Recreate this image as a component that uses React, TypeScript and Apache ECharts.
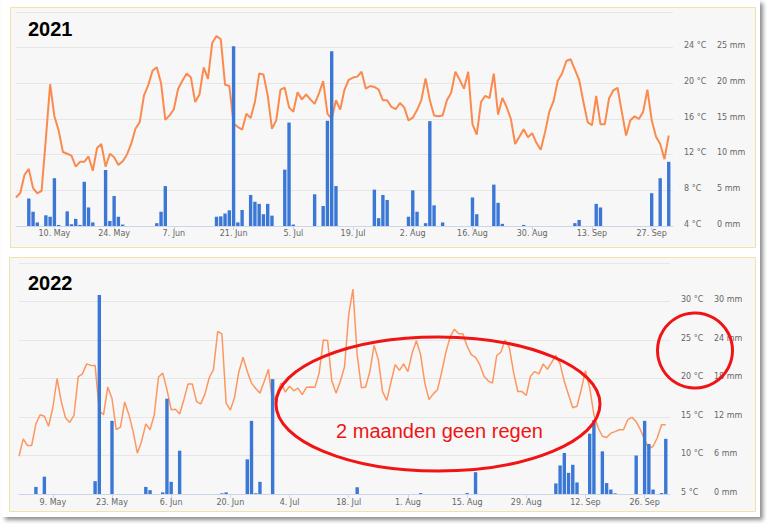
import React, { useEffect, useRef } from "react";
import * as echarts from "echarts";

// Day index 0 = 1 May
const temp2021 = [
  7.2, 7.7, 9.75, 10.4, 8.25, 7.65, 7.95, 13.8, 19.9, 16.3,
  14.7, 12.3, 12.1, 11.9, 10.65, 11.2, 11.2, 11.8, 10.2, 12.75,
  13.2, 10.65, 12.1, 11.7, 10.85, 11.25, 12.0, 13.2, 14.9, 15.65,
  18.65, 19.8, 21.4, 21.8, 20.0, 15.9, 16.4, 17.1, 19.4, 20.3,
  21.1, 20.65, 17.9, 18.75, 21.8, 20.5, 24.55, 25.3, 24.95, 19.85,
  19.7, 15.5, 15.1, 14.8, 16.6, 16.1, 17.9, 21.1, 21.0, 18.65,
  14.9, 15.85, 19.3, 19.5, 17.3, 16.8, 19.0, 18.2, 18.75, 18.2,
  17.7, 18.85, 20.25, 16.6, 16.0, 18.1, 17.05, 19.3, 20.4, 20.65,
  20.75, 21.3, 19.4, 19.7, 19.6, 19.3, 18.1, 18.1, 17.35, 17.1,
  17.8, 17.3, 15.85, 16.15, 17.0, 18.1, 20.55, 18.1, 16.4, 16.3,
  16.4, 18.1, 18.95, 21.3, 20.4, 19.4, 21.3, 15.4, 14.25, 17.9,
  18.6, 18.35, 21.1, 16.5, 18.35, 17.35, 16.0, 13.2, 14.0, 14.85,
  13.95, 14.4, 13.3, 12.55, 14.5, 16.8, 18.0, 20.3, 21.1, 22.5,
  22.7, 21.55, 20.4, 17.9, 15.65, 15.3, 18.6, 15.4, 15.4, 18.3,
  19.2, 19.5, 16.8, 14.15, 15.85, 16.3, 16.0, 16.8, 19.3, 15.9,
  14.05, 13.2, 11.5, 14.15,
];

const rainDays2021 = [
  3, 4, 5, 7, 8, 9, 10, 12, 13, 14, 15, 16, 17, 18, 21, 22, 23, 24, 25, 33, 34, 35,
  47, 48, 49, 50, 51, 52, 53, 55, 56, 57, 58, 59, 60, 63, 64, 65, 70, 72, 73, 74, 75,
  84, 85, 86, 87, 92, 93, 94, 96, 97, 98, 100, 107, 108, 112, 113, 114, 119, 131, 132,
  136, 137, 149, 151, 153,
];
const rainMm2021 = [
  3.85, 2.0, 0.5, 1.5, 1.3, 6.7, 0.15, 2.05, 0.25, 1.0, 0.15, 6.2, 2.6, 0.5, 7.85, 0.7, 4.2, 1.3, 0.2, 0.4, 2.0, 5.6,
  1.3, 1.35, 1.75, 2.2, 25.2, 0.5, 2.25, 4.35, 3.4, 3.1, 1.65, 3.1, 1.45, 7.9, 14.5, 0.2, 4.45, 2.8, 14.75, 24.5, 5.6,
  5.1, 1.1, 4.35, 3.65, 1.3, 5.0, 2.0, 0.4, 14.7, 2.9, 0.5, 4.0, 1.65, 5.8, 3.25, 0.3, 0.15, 0.4, 0.85,
  3.1, 2.6, 4.6, 6.7, 9.0,
];

const temp2022 = [
  9.9, 12.15, 11.3, 11.3, 14.1, 15.3, 15.1, 13.8, 16.2, 20.0,
  17.0, 14.9, 14.3, 15.2, 20.2, 20.6, 21.9, 21.7, 21.7, 15.8,
  15.3, 18.9, 17.4, 13.35, 13.7, 16.95, 15.3, 13.1, 10.3, 11.85,
  14.1, 13.35, 15.3, 20.2, 20.7, 18.55, 15.95, 16.0, 15.4, 17.25,
  19.3, 19.3, 17.0, 16.7, 18.0, 20.1, 21.15, 26.1, 25.8, 16.8,
  15.9, 17.55, 20.85, 22.75, 20.9, 19.4, 18.7, 18.1, 19.6, 21.2,
  16.8, 18.0, 19.4, 18.25, 19.0, 18.4, 18.75, 17.9, 18.85, 18.9,
  18.85, 20.7, 25.0, 24.95, 19.7, 18.1, 19.6, 21.5, 28.3, 31.6,
  23.1, 18.8, 18.9, 20.9, 24.3, 22.45, 18.3, 17.15, 19.55, 21.8,
  21.06, 21.9, 20.9, 23.3, 24.9, 23.1, 19.4, 17.25, 18.0, 18.55,
  20.85, 23.45, 25.4, 26.4, 25.8, 25.8, 24.2, 23.1, 22.75, 21.8,
  20.3, 19.7, 19.4, 22.95, 23.45, 25.0, 24.0, 20.8, 18.3, 18.3,
  17.8, 20.3, 20.9, 20.6, 21.9, 21.2, 22.1, 23.0, 21.9, 19.6,
  17.9, 16.2, 16.4, 18.55, 21.0, 18.8, 15.3, 13.6, 12.5, 12.35,
  12.9, 13.1, 13.35, 13.35, 14.65, 14.95, 14.4, 13.35, 12.05, 10.9,
  11.2, 12.3, 14.0, 14.0,
];

const rainDays2022 = [
  4, 6, 18, 19, 22, 30, 31, 34, 35, 36, 38, 48, 49, 54, 55, 56, 57, 60, 80, 95, 106, 108,
  127, 128, 129, 130, 131, 132, 135, 136, 138, 139, 140, 141, 146, 148, 149, 150, 152, 153,
];
const rainMm2022 = [
  1.1, 2.7, 2.0, 31.0, 11.4, 1.1, 0.6, 0.25, 14.85, 1.9, 6.75, 0.1, 0.25, 5.4, 11.4, 0.1, 1.9, 17.9, 1.05, 0.15, 0.15, 3.4,
  1.65, 4.45, 6.4, 3.3, 4.55, 1.8, 9.4, 11.5, 6.65, 1.7, 0.7, 0.1, 6.0, 11.4, 7.8, 0.7, 0.15, 8.6,
];

const tickDays2021 = [9, 23, 37, 51, 65, 79, 93, 107, 121, 135, 149];
const tickLabels2021 = ["10. May", "24. May", "7. Jun", "21. Jun", "5. Jul", "19. Jul", "2. Aug", "16. Aug", "30. Aug", "13. Sep", "27. Sep"];
const tickDays2022 = [8, 22, 36, 50, 64, 78, 92, 106, 120, 134, 148];
const tickLabels2022 = ["9. May", "23. May", "6. Jun", "20. Jun", "4. Jul", "18. Jul", "1. Aug", "15. Aug", "29. Aug", "12. Sep", "26. Sep"];

const titles = ["2021", "2022"];
const annotation = "2 maanden geen regen";

const LABEL_FONT = "DejaVu Sans";
const GRID_COLOR = "#e6e6e6";
const AXIS_COLOR = "#ccd6eb";
const BAR_COLOR = "#3b78d6";
const RED = "#f01414";

function xAxisFor(gridIndex: number, ticks: number[], labels: string[], margin: number) {
  return {
    type: "value",
    gridIndex,
    min: 0,
    max: 154,
    axisLine: { show: true, onZero: false, lineStyle: { color: AXIS_COLOR, width: 1 } },
    axisTick: { show: true, customValues: ticks, length: 4, lineStyle: { color: AXIS_COLOR } },
    splitLine: { show: false },
    axisLabel: {
      customValues: ticks,
      formatter: (v: number) => {
        const i = ticks.indexOf(Math.round(v));
        return i >= 0 ? labels[i] : "";
      },
      margin,
      color: "#666",
      fontSize: 8,
      fontFamily: LABEL_FONT,
    },
  };
}

function yAxisFor(gridIndex: number, min: number, max: number, interval: number, unit: string, offset: number, split: boolean) {
  return {
    type: "value",
    gridIndex,
    position: "right",
    offset,
    min,
    max,
    interval,
    axisLine: { show: false },
    axisTick: { show: false },
    splitLine: { show: split, lineStyle: { color: GRID_COLOR, width: 1 } },
    axisLabel: {
      formatter: (v: number) => (v >= max ? "" : `${v} ${unit}`),
      margin: 11,
      color: "#666",
      fontSize: 8,
      fontFamily: LABEL_FONT,
      align: "left",
      verticalAlign: "bottom",
      lineHeight: 4,
    },
  };
}

export default function App() {
  const ref = useRef<HTMLDivElement>(null);

  useEffect(() => {
    if (!ref.current) return;
    const chart = echarts.init(ref.current, null, { renderer: "svg" });

    const line2021 = temp2021.map((t, i) => [i, t]);
    const line2022 = temp2022.map((t, i) => [i, t]);
    const bars2021 = rainDays2021.map((d, i) => [d, rainMm2021[i]]);
    const bars2022 = rainDays2022.map((d, i) => [d, rainMm2022[i]]);

    const option: any = {
      animation: false,
      backgroundColor: "#ffffff",
      grid: [
        { left: 16, top: 12, width: 657, height: 214 },
        { left: 19, top: 263, width: 651, height: 231 },
      ],
      xAxis: [
        xAxisFor(0, tickDays2021, tickLabels2021, 3),
        xAxisFor(1, tickDays2022, tickLabels2022, 4),
      ],
      yAxis: [
        yAxisFor(0, 4, 28, 4, "°C", 0, true),
        yAxisFor(0, 0, 30, 5, "mm", 33, false),
        yAxisFor(1, 5, 35, 5, "°C", 0, true),
        yAxisFor(1, 0, 36, 6, "mm", 33, false),
      ],
      series: [
        {
          type: "line",
          xAxisIndex: 0,
          yAxisIndex: 0,
          data: line2021,
          symbol: "none",
          z: 2,
          lineStyle: { color: "#fb8a4e", width: 2 },
          itemStyle: { color: "#fb8a4e" },
        },
        {
          type: "bar",
          xAxisIndex: 0,
          yAxisIndex: 1,
          data: bars2021,
          barWidth: 3.4,
          z: 3,
          itemStyle: { color: BAR_COLOR },
        },
        {
          type: "line",
          xAxisIndex: 1,
          yAxisIndex: 2,
          data: line2022,
          symbol: "none",
          z: 2,
          lineStyle: { color: "#fd9660", width: 1.5 },
          itemStyle: { color: "#fd9660" },
        },
        {
          type: "bar",
          xAxisIndex: 1,
          yAxisIndex: 3,
          data: bars2022,
          barWidth: 3.4,
          z: 3,
          itemStyle: { color: BAR_COLOR },
        },
      ],
      graphic: [
        {
          type: "rect",
          z: -30,
          shape: { x: 2, y: 0, width: 758, height: 517 },
          style: { fill: "#ffffff", shadowBlur: 4, shadowOffsetX: 3, shadowOffsetY: 3, shadowColor: "rgba(0,0,0,0.45)" },
        },
        {
          type: "rect",
          z: -20,
          shape: { x: 10.5, y: 7.5, width: 745, height: 240 },
          style: { fill: "#f7f7f7", stroke: "#efe3a8", lineWidth: 1 },
        },
        {
          type: "rect",
          z: -20,
          shape: { x: 9.5, y: 257.5, width: 746, height: 254 },
          style: { fill: "#f7f7f7", stroke: "#efe3a8", lineWidth: 1 },
        },
        {
          type: "text",
          z: 50,
          x: 28,
          y: 29,
          style: {
            text: titles[0],
            font: 'bold 20px "Liberation Sans", Arial, sans-serif',
            fill: "#000",
            align: "left",
            verticalAlign: "middle",
            textAlign: "left",
            textVerticalAlign: "middle",
          },
        },
        {
          type: "text",
          z: 50,
          x: 28,
          y: 283,
          style: {
            text: titles[1],
            font: 'bold 20px "Liberation Sans", Arial, sans-serif',
            fill: "#000",
            align: "left",
            verticalAlign: "middle",
            textAlign: "left",
            textVerticalAlign: "middle",
          },
        },
        {
          type: "ellipse",
          z: 60,
          shape: { cx: 438, cy: 404, rx: 162, ry: 67 },
          style: { fill: "none", stroke: RED, lineWidth: 3 },
        },
        {
          type: "circle",
          z: 60,
          shape: { cx: 695, cy: 350.5, r: 37.5 },
          style: { fill: "none", stroke: RED, lineWidth: 3 },
        },
        {
          type: "text",
          z: 60,
          x: 439.5,
          y: 431,
          style: {
            text: annotation,
            font: '20px "Liberation Sans", Arial, sans-serif',
            fill: RED,
            align: "center",
            verticalAlign: "middle",
            textAlign: "center",
            textVerticalAlign: "middle",
          },
        },
      ],
    };

    chart.setOption(option);
    return () => chart.dispose();
  }, []);

  return <div ref={ref} style={{ position: "fixed", left: 0, top: 0, width: 768, height: 526 }} />;
}
